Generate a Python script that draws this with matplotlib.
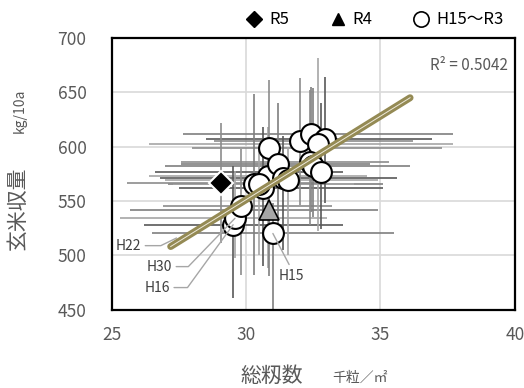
import numpy as np
import matplotlib
matplotlib.use("Agg")
import matplotlib.pyplot as plt
from matplotlib.lines import Line2D

plt.rcParams['font.family'] = ['Noto Sans CJK JP', 'DejaVu Sans']

# H15～R3 : 総籾数 (千粒/㎡), 玄米収量 (kg/10a) と範囲 (最小～最大)
past_x = [31.00, 29.52, 29.59, 29.83, 30.30, 30.64, 30.82, 30.86, 31.19, 31.38,
          31.55, 32.00, 32.43, 32.93, 32.68, 32.37, 32.49, 32.80, 30.50]
past_y = [520, 528, 534, 545, 565.5, 562, 572.5, 598.6, 584, 571,
          569.5, 605, 612, 607, 602, 586, 582, 577, 566]
past_xlo = [26.5, 26.2, 25.3, 26.9, 27.1, 27.5, 26.4, 28.0, 27.6, 26.8,
            27.0, 28.8, 27.65, 28.5, 26.4, 27.6, 27.0, 26.6, 27.3]
past_xhi = [35.5, 33.6, 33.0, 33.2, 35.1, 35.1, 34.5, 37.3, 34.6, 35.6,
            34.9, 36.2, 37.7, 36.9, 37.7, 35.3, 36.1, 33.6, 34.0]
past_ylo = [440, 461, 497, 482, 482, 490, 488, 530, 520, 505,
            500, 546, 540, 548, 522, 528, 535, 524, 500]
past_yhi = [548, 582, 578, 598, 648, 618, 618, 661, 640, 610,
            600, 663, 655, 664, 682, 652, 654, 640, 600]

# R5, R4
r5_x, r5_y = 29.06, 566.5
r5_xlo, r5_xhi, r5_ylo, r5_yhi = 25.56, 33.0, 511, 622
r4_x, r4_y = 30.86, 541.5
r4_xlo, r4_xhi, r4_ylo, r4_yhi = 25.7, 34.9, 481, 600

# 注記する年 (index into past arrays)
notes = {'H15': 0, 'H16': 1, 'H30': 2, 'H22': 3}

# 近似直線
trend_x = [27.2, 36.1]
trend_y = [508, 645]
r2_text = 'R² = 0.5042'

fig = plt.figure(figsize=(5.24, 3.88), dpi=100)
ax = fig.add_axes([0.2128, 0.2023, 0.7700, 0.6997])

grays = ['#7f7f7f', '#595959', '#a6a6a6', '#8c8c8c']
all_x = past_x + [r5_x, r4_x]
all_y = past_y + [r5_y, r4_y]
all_xlo = past_xlo + [r5_xlo, r4_xlo]
all_xhi = past_xhi + [r5_xhi, r4_xhi]
all_ylo = past_ylo + [r5_ylo, r4_ylo]
all_yhi = past_yhi + [r5_yhi, r4_yhi]
cols = [grays[i % len(grays)] for i in range(len(all_x))]

ax.hlines(all_y, all_xlo, all_xhi, colors=cols, lw=1.2, zorder=2)
ax.vlines(all_x, all_ylo, all_yhi, colors=cols, lw=1.2, zorder=2)

ax.plot(past_x, past_y, 'o', ms=15, mfc='white', mec='black', mew=1.5, zorder=3)
ax.plot([r4_x], [r4_y], '^', ms=15, mfc='#a6a6a6', mec='black', mew=1.2, zorder=3)
ax.plot([r5_x], [r5_y], 'D', ms=12, mfc='black', mec='white', mew=1.5, zorder=3)

ax.plot(trend_x, trend_y, color='#948a54', lw=5, solid_capstyle='round', zorder=6)
ax.plot(trend_x, trend_y, color='#eeeadb', lw=0.7, zorder=6)

# 注記
lab_kw = dict(fontsize=10, color='#404040', zorder=5)
leader = dict(arrowstyle='-', color='#a6a6a6', lw=1.0, shrinkA=1, shrinkB=0)
ax.annotate('H22', xy=(past_x[notes['H22']], past_y[notes['H22']]), xytext=(26.1, 508.8),
            ha='right', va='center',
            arrowprops=dict(leader, relpos=(1, 0.5), shrinkB=52,
                            connectionstyle='angle,angleA=0,angleB=26,rad=0'), **lab_kw)
ax.annotate('H30', xy=(past_x[notes['H30']], past_y[notes['H30']]), xytext=(27.25, 489.5),
            ha='right', va='center',
            arrowprops=dict(leader, relpos=(1, 0.5),
                            connectionstyle='angle,angleA=0,angleB=46,rad=0'), **lab_kw)
ax.annotate('H16', xy=(past_x[notes['H16']], past_y[notes['H16']]), xytext=(27.17, 470.2),
            ha='right', va='center',
            arrowprops=dict(leader, relpos=(1, 0.5),
                            connectionstyle='angle,angleA=0,angleB=54,rad=0'), **lab_kw)
ax.annotate('H15', xy=(past_x[notes['H15']], past_y[notes['H15']]), xytext=(31.68, 481.3),
            ha='center', va='center',
            arrowprops=dict(leader, relpos=(0.5, 1.0)), **lab_kw)

ax.text(0.983, 0.9, r2_text, transform=ax.transAxes, ha='right', va='center',
        fontsize=11, color='#595959')

ax.set_xlim(25, 40)
ax.set_ylim(450, 700)
ax.set_xticks([25, 30, 35, 40])
ax.set_yticks([450, 500, 550, 600, 650, 700])
ax.grid(True, color='#d9d9d9', lw=1.2, zorder=0)
ax.set_axisbelow(True)
ax.tick_params(length=0, labelsize=12.5, labelcolor='#595959')
ax.tick_params(axis='y', pad=18)
ax.tick_params(axis='x', pad=12)
for s in ax.spines.values():
    s.set_linewidth(1.6)
    s.set_color('black')
    s.set_zorder(7)

# 軸ラベル
fig.text(18 / 524, 1 - 208 / 388, '玄米収量', rotation=90, ha='center', va='center',
         fontsize=15, color='#595959')
fig.text(20 / 524, 1 - 111 / 388, 'kg/10a', rotation=90, ha='center', va='center',
         fontsize=10, color='#595959')
fig.text(272 / 524, 1 - 376 / 388, '総籾数', ha='center', va='center',
         fontsize=15, color='#595959')
fig.text(360 / 524, 1 - 378 / 388, '千粒／㎡', ha='center', va='center',
         fontsize=10, color='#595959')

# 凡例
handles = [Line2D([], [], ls='none', marker='D', ms=8, mfc='black', mec='black'),
           Line2D([], [], ls='none', marker='^', ms=9, mfc='black', mec='black'),
           Line2D([], [], ls='none', marker='o', ms=11, mfc='white', mec='black', mew=1.2)]
fig.legend(handles, ['R5', 'R4', 'H15～R3'], loc='center', bbox_to_anchor=(0.715, 1 - 20 / 388),
           ncol=3, frameon=False, fontsize=12, handletextpad=0.4, columnspacing=2.4,
           handlelength=1.0, borderpad=0)

fig.savefig('out.png', dpi=100)
